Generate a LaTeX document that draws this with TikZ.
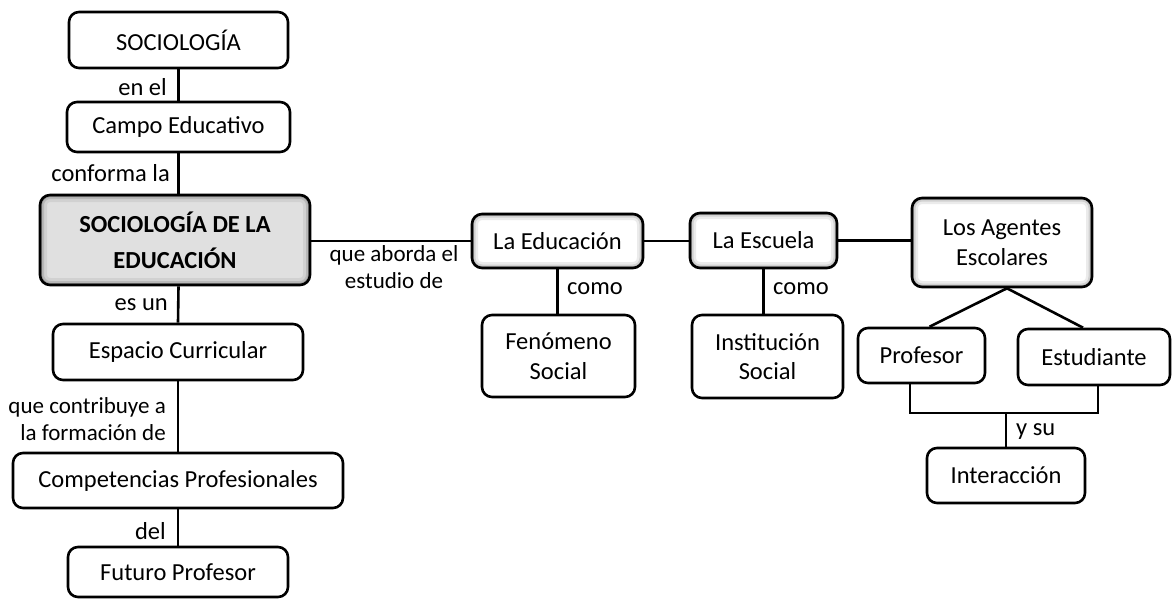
\documentclass[tikz,border=0pt]{standalone}
\usepackage{fontspec}
\setmainfont{Carlito}
\begin{document}
\begin{tikzpicture}[x=1pt,y=-1pt,
  every node/.style={font=\fontsize{24.5}{29.5}\selectfont},
  box/.style={draw=black, line width=2.6pt, rounded corners=10pt, align=center, inner sep=0pt, fill=white},
  glow/.style={path picture={
      \draw[line width=12pt, black!8, rounded corners=10pt] (path picture bounding box.north west) rectangle (path picture bounding box.south east);
      \draw[line width=7pt, black!18, rounded corners=10pt] (path picture bounding box.north west) rectangle (path picture bounding box.south east);
      \draw[line width=3.5pt, black!35, rounded corners=10pt] (path picture bounding box.north west) rectangle (path picture bounding box.south east);
  }},
  mainglow/.style={fill=black!12, path picture={
      \draw[line width=14pt, black!18, rounded corners=10pt] (path picture bounding box.north west) rectangle (path picture bounding box.south east);
      \draw[line width=8pt, black!28, rounded corners=10pt] (path picture bounding box.north west) rectangle (path picture bounding box.south east);
      \draw[line width=4pt, black!45, rounded corners=10pt] (path picture bounding box.north west) rectangle (path picture bounding box.south east);
  }},
  conn/.style={draw=black, line width=2.6pt},
  lbl/.style={inner sep=0pt},
  smalllbl/.style={inner sep=0pt, font=\fontsize{23}{27.5}\selectfont}
]
\useasboundingbox (0,0) rectangle (1172,599);

% left column
\node[box, minimum width=219, minimum height=56] (soc) at (178.5,40) {SOCIOLOGÍA};
\node[box, minimum width=223, minimum height=50] (campo) at (178.5,127) {Campo Educativo};
\node[box, mainglow, minimum width=270, minimum height=90, font=\fontsize{24.5}{36}\selectfont\bfseries] (main) at (175,240) {SOCIOLOGÍA DE LA\\EDUCACIÓN};
\node[box, minimum width=250, minimum height=56] (esp) at (178,352) {Espacio Curricular};
\node[box, minimum width=330, minimum height=55] (comp) at (178,480.5) {Competencias Profesionales};
\node[box, minimum width=220, minimum height=50] (fut) at (178,572) {Futuro Profesor};

% middle
\node[box, glow, minimum width=171, minimum height=54] (edu) at (557.5,241) {La Educación};
\node[box, minimum width=153, minimum height=82] (fen) at (558.5,356) {Fenómeno\\Social};
\node[box, glow, minimum width=147, minimum height=55] (esc) at (763.5,240.5) {La Escuela};
\node[box, minimum width=151, minimum height=83] (inst) at (767.5,356.5) {Institución\\Social};

% right
\node[box, glow, minimum width=180, minimum height=89] (ag) at (1002,242.5) {Los Agentes\\Escolares};
\node[box, minimum width=127, minimum height=55] (prof) at (921.5,355.5) {Profesor};
\node[box, minimum width=152, minimum height=56] (est) at (1094,357) {Estudiante};
\node[box, minimum width=158, minimum height=55] (inter) at (1006,475.5) {Interacción};

% connectors left
\draw[conn] (soc.south) -- (campo.north);
\draw[conn] (campo.south) -- (campo.south |- main.north);
\draw[conn] (campo.south |- main.south) -- (esp.north);
\draw[conn] (esp.south) -- (comp.north);
\draw[conn] (comp.south) -- (fut.north);

% connectors middle
\draw[conn] (main.east |- edu.west) -- (edu.west);
\draw[conn] (edu.east) -- (esc.west |- edu.east);
\draw[conn] (esc.east) -- (esc.east -| ag.west);
\draw[conn] (edu.south) -- (edu.south |- fen.north);
\draw[conn] (esc.south) -- (esc.south |- inst.north);

% connectors right
\draw[conn] ([xshift=5pt]ag.south) -- ([xshift=8pt]prof.north);
\draw[conn] ([xshift=5pt]ag.south) -- ([xshift=-11pt]est.north);
\coordinate (br) at (inter.north |- 0,413);
\draw[conn] ([xshift=-11.5pt]prof.south) |- (br) -| ([xshift=4pt]est.south);
\draw[conn] (br) -- (inter.north);

% labels
\node[lbl, anchor=east] (l1) at (167,87) {en el};
\node[lbl, anchor=east] (l2) at (170,173) {conforma la};
\node[lbl, anchor=east] (l3) at (168,305) {es un};
\node[smalllbl, anchor=east, align=right] (l4) at (166,419) {que contribuye a\\la formación de};
\node[lbl, anchor=east] (l5) at (166,531) {del};
\node[smalllbl, align=center] (l6) at (394,267) {que aborda el\\estudio de};
\node[lbl, anchor=west] (l7) at (567,289) {como};
\node[lbl, anchor=west] (l8) at (773,289) {como};
\node[lbl, anchor=west] (l9) at (1016,432) {y su};
\end{tikzpicture}
\end{document}
